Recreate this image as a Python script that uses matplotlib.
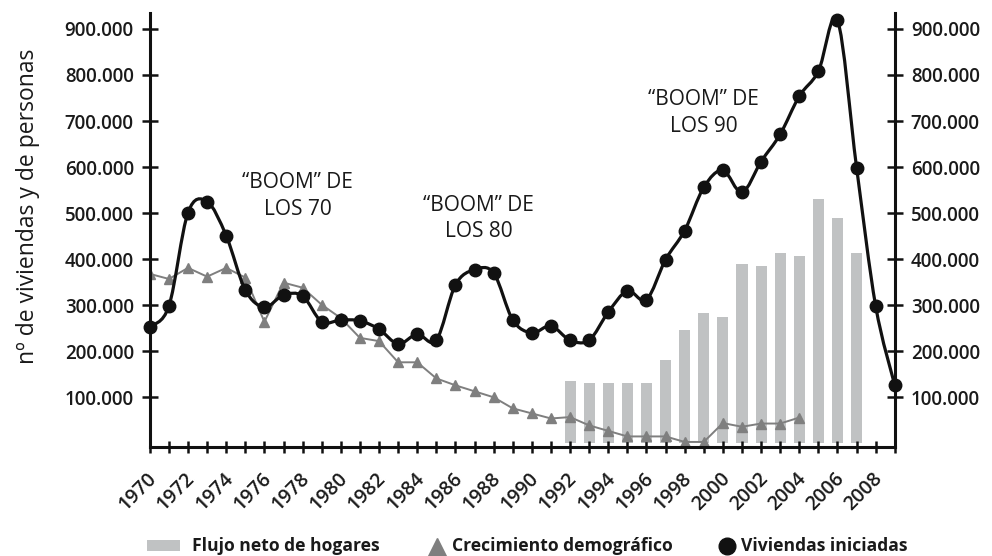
import matplotlib
matplotlib.use("Agg")
import matplotlib.pyplot as plt
import matplotlib.transforms as mtransforms
import numpy as np
from matplotlib.path import Path
from matplotlib.patches import PathPatch, Rectangle
from matplotlib.lines import Line2D

plt.rcParams['font.family'] = ['Open Sans', 'DejaVu Sans']

years = list(range(1970, 2010))
viviendas = [253000, 298000, 501000, 525000, 451000, 333000, 296000, 322000, 320000, 264000,
             268000, 266000, 248000, 216000, 237000, 224000, 344000, 377000, 370000, 268000,
             240000, 255000, 224000, 224000, 285000, 331000, 312000, 399000, 462000, 556000,
             593000, 545000, 612000, 671000, 754000, 808000, 919000, 599000, 298000, 126000]

crec_years = list(range(1970, 2005))
crecimiento = [368000, 357000, 381000, 362000, 381000, 360000, 264000, 349000, 338000, 301000,
               272000, 229000, 222000, 176000, 176000, 141000, 126000, 113000, 100000, 76000,
               65000, 54000, 57000, 39000, 27000, 15000, 15000, 15000, 3000, 3000,
               44000, 36000, 43000, 43000, 56000]

flujo_years = list(range(1992, 2008))
flujo = [135000, 130000, 130000, 130000, 130000, 181000, 246000, 283000, 275000,
         390000, 386000, 413000, 407000, 531000, 489000, 413000]

yticks = [100000, 200000, 300000, 400000, 500000, 600000, 700000, 800000, 900000]
ytick_labels = ['100.000', '200.000', '300.000', '400.000', '500.000', '600.000', '700.000', '800.000', '900.000']
xtick_years = list(range(1970, 2010, 2))

annotations = [("\u201cBOOM\u201d DE\nLOS 70", 1977.75, 537000),
               ("\u201cBOOM\u201d DE\nLOS 80", 1987.2, 488000),
               ("\u201cBOOM\u201d DE\nLOS 90", 1999.0, 718000)]

legend_labels = ['Flujo neto de hogares', 'Crecimiento demogr\u00e1fico', 'Viviendas iniciadas']

W, H = 992, 556
fig = plt.figure(figsize=(W / 100, H / 100), dpi=100)
ax = fig.add_axes([0.151, 0.196, 0.751, 0.781])

# bars
ax.bar(flujo_years, flujo, width=0.58, color='#c0c2c3', zorder=1)

# gray line
ax.plot(crec_years, crecimiento, color='#7f7f7f', lw=1.4, marker='^', ms=6.5,
        markerfacecolor='#7f7f7f', markeredgecolor='#7f7f7f', zorder=2)

# smooth black line (Catmull-Rom -> Bezier)
x = np.array(years, dtype=float)
y = np.array(viviendas, dtype=float)
verts = [(x[0], y[0])]
codes = [Path.MOVETO]
n = len(x)
for i in range(n - 1):
    p0 = np.array([x[max(i - 1, 0)], y[max(i - 1, 0)]])
    p1 = np.array([x[i], y[i]])
    p2 = np.array([x[i + 1], y[i + 1]])
    p3 = np.array([x[min(i + 2, n - 1)], y[min(i + 2, n - 1)]])
    c1 = p1 + (p2 - p0) / 6.0
    c2 = p2 - (p3 - p1) / 6.0
    verts += [tuple(c1), tuple(c2), tuple(p2)]
    codes += [Path.CURVE4, Path.CURVE4, Path.CURVE4]
ax.add_patch(PathPatch(Path(verts, codes), facecolor='none', edgecolor='#111111', lw=2.3, zorder=3,
                       clip_on=False))
ax.plot(years, viviendas, linestyle='none', marker='o', ms=9, color='#111111', zorder=4, clip_on=False)

for txt, xx, yy in annotations:
    ax.text(xx, yy, txt, ha='center', va='center', fontsize=15, color='#1a1a1a', linespacing=1.35)

ax.set_xlim(1970, 2009)
ax.set_ylim(-8000, 935000)

ax.spines['top'].set_visible(False)
for s in ['left', 'right', 'bottom']:
    ax.spines[s].set_linewidth(2.2)
    ax.spines[s].set_color('#111111')

ax.set_xticks(years, minor=True)
ax.set_xticks(xtick_years)
ax.set_xticklabels([str(v) for v in xtick_years], rotation=45, ha='right', va='top',
                   rotation_mode='anchor', fontsize=14, weight='semibold', color='#1a1a1a')
ax.tick_params(axis='x', which='both', direction='inout', length=9, width=1.8, color='#111111', pad=11)
offset = mtransforms.ScaledTranslation(-3 / 100, 0, fig.dpi_scale_trans)
for lbl in ax.get_xticklabels():
    lbl.set_transform(lbl.get_transform() + offset)

ax.set_yticks(yticks)
ax.set_yticklabels(ytick_labels, fontsize=13.5, weight='semibold', color='#1a1a1a')
ax.tick_params(axis='y', which='both', direction='inout', length=11, width=1.8, color='#111111',
               left=True, right=True, labelleft=True, labelright=True, pad=6)

ax.set_ylabel('n\u00ba de viviendas y de personas', fontsize=16.5, color='#1a1a1a')
ax.yaxis.set_label_coords(-0.148, 0.555)

# manual legend (figure pixel coordinates)
def fx(px):
    return px / W

def fy(py):
    return 1 - py / H

ly = 546
fig.add_artist(Rectangle((fx(147), fy(551)), fx(33), 11 / H, transform=fig.transFigure,
                         facecolor='#c0c2c3', edgecolor='none'))
fig.text(fx(192), fy(ly), legend_labels[0], ha='left', va='center', fontsize=12.6, weight='bold',
         color='#1a1a1a')
fig.add_artist(Line2D([fx(437)], [fy(ly + 1)], transform=fig.transFigure, linestyle='none',
                      marker='^', ms=12.5, color='#7f7f7f'))
fig.text(fx(452), fy(ly), legend_labels[1], ha='left', va='center', fontsize=12.6, weight='bold',
         color='#1a1a1a')
fig.add_artist(Line2D([fx(727)], [fy(ly)], transform=fig.transFigure, linestyle='none',
                      marker='o', ms=12, color='#111111'))
fig.text(fx(741), fy(ly), legend_labels[2], ha='left', va='center', fontsize=12.6, weight='bold',
         color='#1a1a1a')

fig.savefig('out.png', dpi=100)
